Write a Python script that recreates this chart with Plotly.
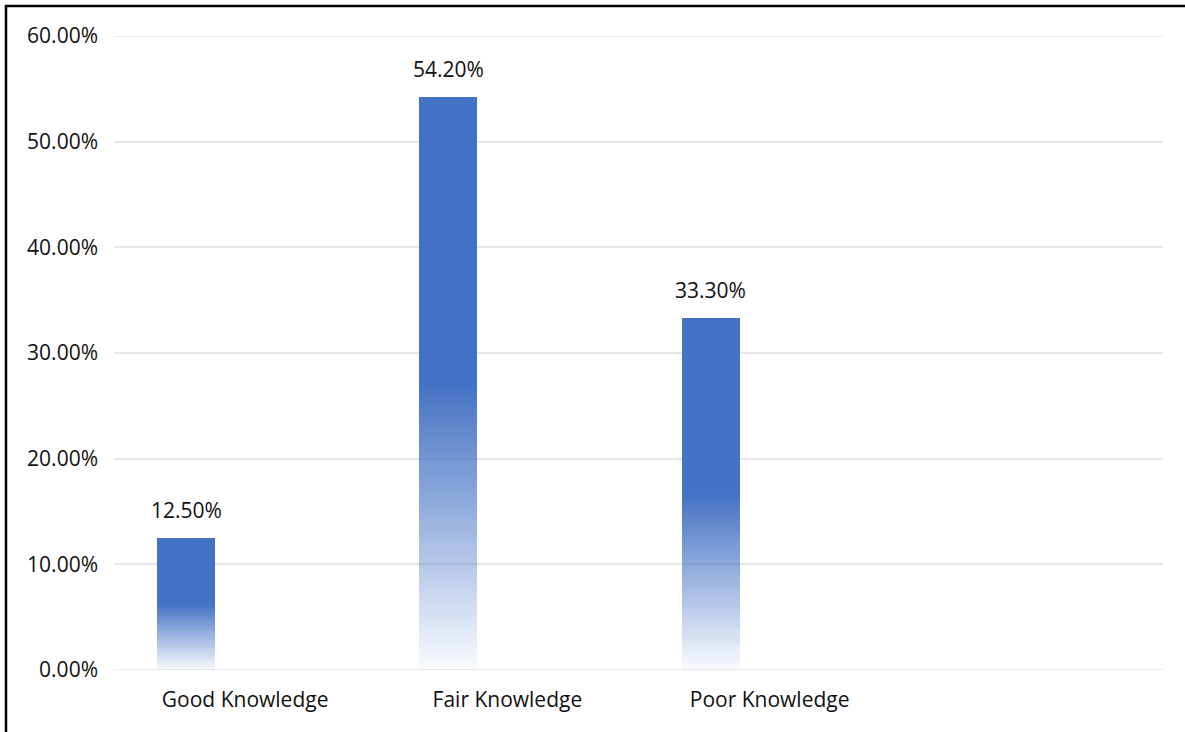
import plotly.graph_objects as go

categories = ["Good Knowledge", "Fair Knowledge", "Poor Knowledge"]
values = [12.5, 54.2, 33.3]
value_labels = ["12.50%", "54.20%", "33.30%"]
y_ticks = [0, 10, 20, 30, 40, 50, 60]

BLUE = (68, 114, 196)
W, H = 1185, 732
ML, MR, MT, MB = 114, 22, 36, 62
BAR_OFFSET = -0.336
BAR_WIDTH = 0.222
N_SLICES = 48
FONT = "Open Sans"
FS = 21
GRID = "#e6e6e6"

fig = go.Figure()

# lower half of each bar: gradient from near-white to solid blue
for k in range(N_SLICES):
    t = (k + 0.5) / N_SLICES
    alpha = 0.03 + 0.97 * t
    fig.add_trace(go.Bar(
        x=categories,
        y=[v / 2 / N_SLICES for v in values],
        offset=BAR_OFFSET, width=BAR_WIDTH,
        marker=dict(color=f"rgba({BLUE[0]},{BLUE[1]},{BLUE[2]},{alpha:.3f})", line=dict(width=0)),
        hoverinfo="skip", showlegend=False,
    ))
# upper half: solid
fig.add_trace(go.Bar(
    x=categories,
    y=[v / 2 for v in values],
    offset=BAR_OFFSET, width=BAR_WIDTH,
    marker=dict(color=f"rgb({BLUE[0]},{BLUE[1]},{BLUE[2]})", line=dict(width=0)),
    showlegend=False,
))

for i, (v, lab) in enumerate(zip(values, value_labels)):
    fig.add_annotation(
        x=i + BAR_OFFSET + BAR_WIDTH / 2, y=v, text=lab, showarrow=False,
        yanchor="middle", yshift=28, xref="x", yref="y",
        font=dict(family=FONT, size=FS, color="#111111"),
    )

# edge gridlines (at range ends) drawn explicitly
for yv in (y_ticks[0], y_ticks[-1]):
    fig.add_shape(type="line", xref="paper", yref="y", x0=0, x1=1, y0=yv, y1=yv,
                  line=dict(color=GRID, width=1.5), layer="below")

pw, ph = W - ML - MR, H - MT - MB
fig.add_shape(
    type="rect", xref="paper", yref="paper",
    x0=(6 - ML) / pw, x1=(W + 10 - ML) / pw,
    y0=-(MB + 10) / ph, y1=1 + (MT - 6) / ph,
    line=dict(color="#000000", width=2.5), fillcolor="rgba(0,0,0,0)", layer="above",
)

fig.update_layout(
    width=W, height=H,
    margin=dict(l=ML, r=MR, t=MT, b=MB),
    barmode="stack", bargap=0,
    plot_bgcolor="white", paper_bgcolor="white",
    font=dict(family=FONT, size=FS, color="#111111"),
    xaxis=dict(
        type="category", range=[-0.5, 3.5], showgrid=False, zeroline=False,
        showline=False, ticks="", ticklabelstandoff=15,
        tickfont=dict(family=FONT, size=FS, color="#111111"),
    ),
    yaxis=dict(
        range=[0, 60], tickvals=y_ticks, ticktext=[f"{t:.2f}%" for t in y_ticks],
        showgrid=True, gridcolor=GRID, gridwidth=1.5, zeroline=False,
        showline=False, ticks="", ticklabelstandoff=15,
        tickfont=dict(family=FONT, size=FS, color="#111111"),
    ),
)

fig.write_html("out.html")
